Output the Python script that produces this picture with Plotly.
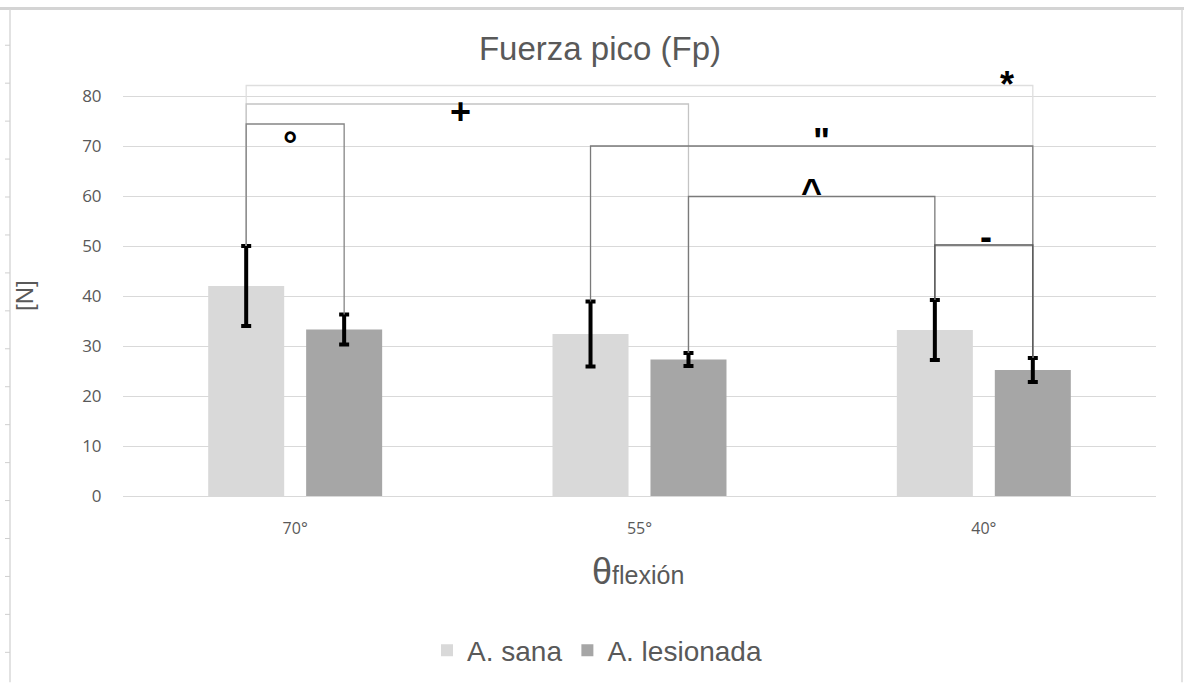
import plotly.graph_objects as go

# Peak force per flexion angle, healthy vs injured side
categories = ["70°", "55°", "40°"]
sana = [42.0, 32.4, 33.2]
sana_err = [8.0, 6.5, 6.0]
lesionada = [33.3, 27.3, 25.2]
lesionada_err = [3.0, 1.3, 2.4]
y_ticks = [0, 10, 20, 30, 40, 50, 60, 70, 80]

series_names = ["A. sana", "A. lesionada"]
series_values = [sana, lesionada]
series_errors = [sana_err, lesionada_err]
series_colors = ["#d9d9d9", "#a6a6a6"]

# Significance brackets:
# (cat a, series a, cat b, series b, bracket level, symbol, label x, label y, line colour)
brackets = [
    (0, 0, 2, 1, 82.1, "*", 2.067, 82.4, "#dedede"),
    (0, 0, 1, 1, 78.4, "+", 0.481, 76.9, "#c4c4c4"),
    (0, 0, 0, 1, 74.4, "°", -0.015, 70.3, "#858585"),
    (1, 0, 2, 1, 70.0, "\"", 1.529, 70.9, "#7a7a7a"),
    (1, 1, 2, 0, 59.9, "^", 1.500, 61.0, "#7a7a7a"),
    (2, 0, 2, 1, 50.2, "-", 2.005, 51.9, "#555555"),
]

BARGAP = 0.431
BARGROUPGAP = 0.224
TEXT = "#595959"
GRID = "#d9d9d9"

W, H = 1184, 688
ML, MR, MT, MB = 123, 28, 71, 188
PW, PH = W - ML - MR, H - MT - MB

x_pos = list(range(len(categories)))


def bar_x(cat, s):
    return cat + (s - 0.5) * (1 - BARGAP) / 2


def err_top(cat, s):
    return series_values[s][cat] + series_errors[s][cat]


def px_to_paper_x(px):
    return (px - ML) / PW


def px_to_paper_y(py):
    return (H - MB - py) / PH


fig = go.Figure()
for name, vals, errs, col in zip(series_names, series_values, series_errors, series_colors):
    fig.add_trace(go.Bar(
        x=x_pos, y=vals, name=name,
        marker=dict(color=col, line=dict(width=0)),
        error_y=dict(type="data", array=errs, visible=True,
                     color="#000000", thickness=4, width=5),
    ))

shapes = []
annotations = []
for ca, sa, cb, sb, level, sym, lx, ly, col in brackets:
    xa, xb = bar_x(ca, sa), bar_x(cb, sb)
    ya, yb = err_top(ca, sa), err_top(cb, sb)
    shapes.append(dict(
        type="path", xref="x", yref="y",
        path=f"M {xa},{ya} L {xa},{level} L {xb},{level} L {xb},{yb}",
        line=dict(color=col, width=1.3),
    ))
    annotations.append(dict(
        x=lx, y=ly, xref="x", yref="y", text=f"<b>{sym}</b>",
        showarrow=False, xanchor="center", yanchor="middle",
        font=dict(family="Liberation Sans, Arial", size=36, color="#000000"),
    ))

# Frame around the chart area
shapes.append(dict(type="line", xref="paper", yref="paper",
                   x0=px_to_paper_x(0), x1=px_to_paper_x(W),
                   y0=px_to_paper_y(8), y1=px_to_paper_y(8),
                   line=dict(color="#d4d4d4", width=3)))
for fx in (10, 1182):
    shapes.append(dict(type="line", xref="paper", yref="paper",
                       x0=px_to_paper_x(fx), x1=px_to_paper_x(fx),
                       y0=px_to_paper_y(9), y1=px_to_paper_y(H),
                       line=dict(color="#d9d9d9", width=1.5)))
# Ruler marks on the left edge
for k in range(17):
    ry = 45 + 38.3 * k
    shapes.append(dict(type="line", xref="paper", yref="paper",
                       x0=px_to_paper_x(5), x1=px_to_paper_x(10),
                       y0=px_to_paper_y(ry), y1=px_to_paper_y(ry),
                       line=dict(color="#cfcfcf", width=1)))

# Axis titles
annotations.append(dict(
    x=px_to_paper_x(638), y=px_to_paper_y(576), xref="paper", yref="paper",
    text='θ<span style="font-size:25px">flexión</span>',
    showarrow=False, xanchor="center", yanchor="middle",
    font=dict(family="Liberation Sans, Arial", size=36, color=TEXT),
))
annotations.append(dict(
    x=px_to_paper_x(25), y=px_to_paper_y(298), xref="paper", yref="paper",
    text="[N]", textangle=-90,
    showarrow=False, xanchor="center", yanchor="middle",
    font=dict(family="Liberation Sans, Arial", size=24, color=TEXT),
))

fig.update_layout(
    width=W, height=H,
    margin=dict(l=ML, r=MR, t=MT, b=MB, pad=0),
    paper_bgcolor="#ffffff", plot_bgcolor="#ffffff",
    barmode="group", bargap=BARGAP, bargroupgap=BARGROUPGAP,
    title=dict(text="Fuerza pico (Fp)", x=600 / W, xanchor="center",
               y=1 - 48 / H, yanchor="middle", yref="container",
               font=dict(family="Liberation Sans, Arial", size=33, color=TEXT)),
    xaxis=dict(range=[-0.5, 2.5], tickvals=x_pos, ticktext=categories,
               showgrid=False, zeroline=False, showline=False,
               ticks="outside", ticklen=18, tickcolor="rgba(0,0,0,0)",
               tickfont=dict(family="Open Sans", size=16, color=TEXT)),
    yaxis=dict(range=[0, 85], tickvals=y_ticks, showgrid=True, gridcolor=GRID,
               gridwidth=1, zeroline=True, zerolinecolor=GRID, zerolinewidth=1,
               showline=False, ticks="outside", ticklen=17,
               tickcolor="rgba(0,0,0,0)",
               tickfont=dict(family="Open Sans", size=17, color=TEXT)),
    legend=dict(orientation="h", x=px_to_paper_x(597), xanchor="center",
                y=px_to_paper_y(656), yanchor="middle",
                font=dict(family="Liberation Sans, Arial", size=28, color=TEXT),
                bgcolor="rgba(0,0,0,0)"),
    shapes=shapes, annotations=annotations,
)

fig.write_html("out.html")
